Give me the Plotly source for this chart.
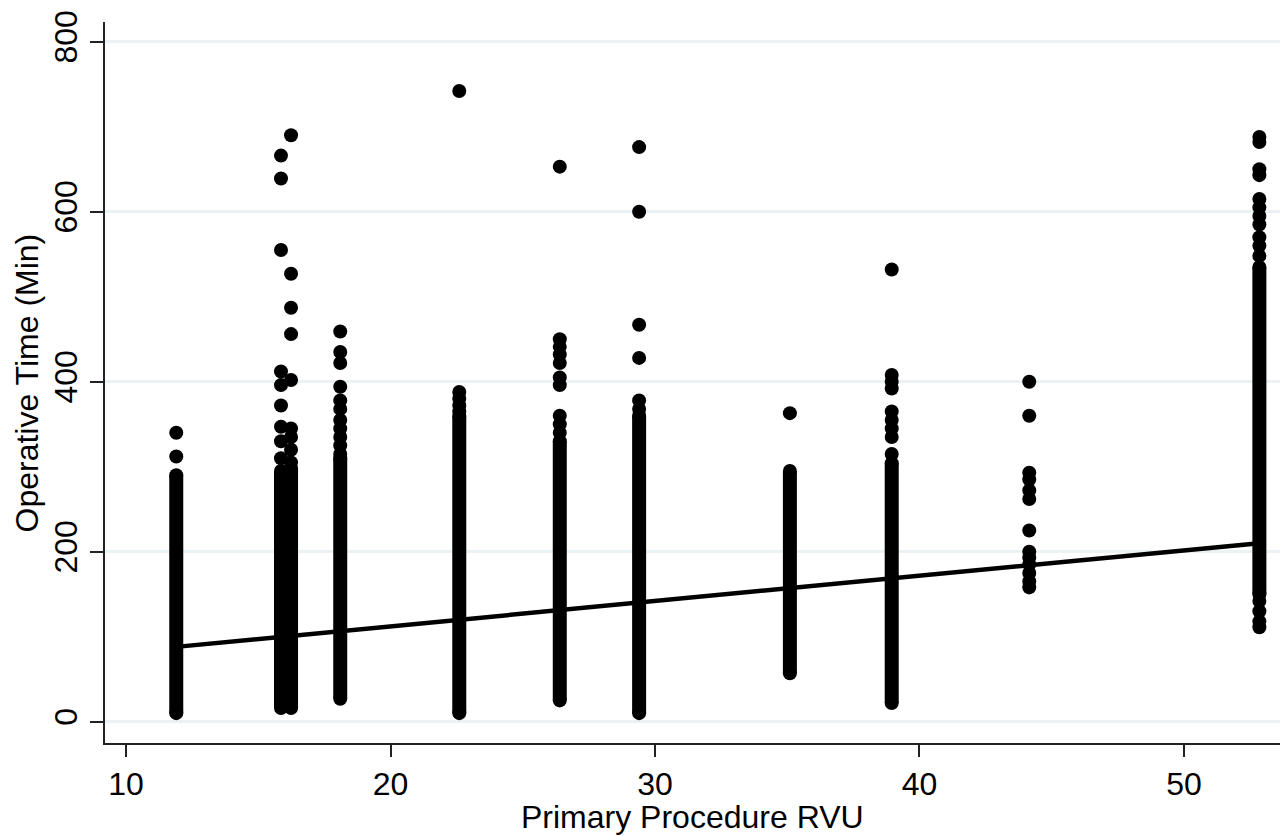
import plotly.graph_objects as go

# ---- data ----
# columns of operative-time values at each primary-procedure RVU
dense_rvu = [11.9, 15.86, 16.05, 16.24, 18.1, 22.6, 26.4, 29.4, 35.1, 38.95, 52.85]
dense_low = [10, 16, 25, 16, 27, 10, 25, 10, 57, 22, 150]
dense_high = [290, 295, 290, 298, 310, 360, 330, 360, 295, 304, 535]

# individual (sparse) observations
out_rvu = (
    [11.9] * 2
    + [15.86] * 9
    + [16.24] * 9
    + [18.1] * 11
    + [22.6] * 5
    + [26.4] * 10
    + [29.4] * 6
    + [35.1] * 1
    + [38.95] * 9
    + [44.15] * 13
    + [52.85] * 15
)
out_time = (
    [340, 312]
    + [666, 639, 555, 412, 396, 372, 347, 330, 310]
    + [690, 527, 487, 456, 402, 345, 335, 320, 305]
    + [459, 435, 422, 394, 378, 368, 355, 345, 335, 325, 315]
    + [742, 388, 380, 372, 365]
    + [653, 450, 441, 432, 422, 405, 396, 360, 350, 340]
    + [676, 600, 467, 428, 378, 368]
    + [363]
    + [532, 408, 400, 392, 365, 355, 345, 335, 315]
    + [400, 360, 293, 285, 272, 262, 225, 200, 193, 185, 175, 165, 158]
    + [688, 682, 650, 643, 615, 605, 595, 585, 570, 560, 548, 142, 130, 118, 111]
)

# linear fit (fitted values at the extreme RVUs)
fit_rvu = [11.9, 52.85]
fit_time = [88, 210]

x_ticks = [10, 20, 30, 40, 50]
y_ticks = [0, 200, 400, 600, 800]
x_title = "Primary Procedure RVU"
y_title = "Operative Time (Min)"

MS = 14
fig = go.Figure()

for xv, lo, hi in zip(dense_rvu, dense_low, dense_high):
    fig.add_trace(go.Scatter(
        x=[xv, xv], y=[lo, hi], mode="lines+markers",
        line=dict(color="black", width=MS),
        marker=dict(color="black", size=MS),
        hoverinfo="skip", showlegend=False,
    ))

fig.add_trace(go.Scatter(
    x=out_rvu, y=out_time, mode="markers",
    marker=dict(color="black", size=MS, line=dict(width=0)),
    showlegend=False,
))

fig.add_trace(go.Scatter(
    x=fit_rvu, y=fit_time, mode="lines",
    line=dict(color="black", width=4.5),
    showlegend=False,
))

font = "Liberation Sans, Arial, sans-serif"
fig.update_layout(
    width=1285, height=836,
    margin=dict(l=105, r=5, t=22, b=93),
    paper_bgcolor="white", plot_bgcolor="white",
    font=dict(family=font, color="black", size=32),
    xaxis=dict(
        range=[9.206, 53.63], tickvals=x_ticks, ticks="outside", ticklen=12,
        tickwidth=2, tickcolor="#222", showline=True, linecolor="#222", linewidth=2,
        showgrid=False, zeroline=False, tickfont=dict(size=32), automargin=False,
    ),
    yaxis=dict(
        range=[-25.1, 823.2], tickvals=y_ticks, ticks="outside", ticklen=13,
        tickwidth=2, tickcolor="#222", showline=True, linecolor="#222", linewidth=2,
        showgrid=True, gridcolor="#eaf2f3", gridwidth=3, zeroline=False,
        tickangle=-90, tickfont=dict(size=32), automargin=False,
    ),
    annotations=[
        dict(text=x_title, xref="paper", yref="paper", x=0.5, y=-0.1026,
             xanchor="center", yanchor="middle", showarrow=False,
             font=dict(size=32)),
        dict(text=y_title, xref="paper", yref="paper", x=-0.0664, y=0.5,
             xanchor="center", yanchor="middle", showarrow=False, textangle=-90,
             font=dict(size=32)),
    ],
)

fig.write_html("out.html", config={"displayModeBar": False},
               post_script="document.body.style.margin='0';")
